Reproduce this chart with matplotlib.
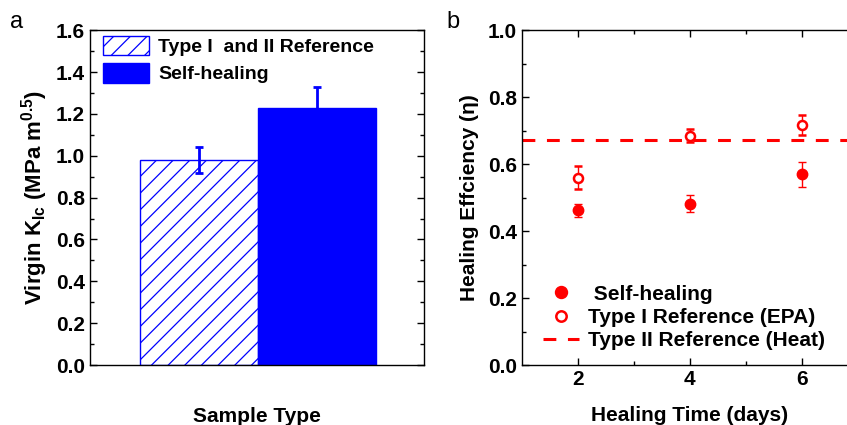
import matplotlib
matplotlib.use("Agg")
import matplotlib.pyplot as plt

plt.rcParams['font.family'] = ['Liberation Sans', 'DejaVu Sans']
plt.rcParams['font.weight'] = 'bold'
plt.rcParams['mathtext.default'] = 'regular'
plt.rcParams['hatch.linewidth'] = 0.9

# panel a data
sample_labels = ['Type I  and II Reference', 'Self-healing']
virgin_kic = [0.98, 1.23]
virgin_err = [0.06, 0.10]

# panel b data
healing_days = [2, 4, 6]
self_healing_eff = [0.462, 0.482, 0.570]
self_healing_err = [0.020, 0.025, 0.037]
type1_eff = [0.560, 0.685, 0.718]
type1_err = [0.035, 0.020, 0.030]
type2_eff = 0.672

blue = '#0000ff'
red = '#ff0000'

fig = plt.figure(figsize=(8.47, 4.25), dpi=100)
ax1 = fig.add_axes([0.106, 0.141, 0.394, 0.788])
ax2 = fig.add_axes([0.616, 0.141, 0.397, 0.788])


def style_axes(ax):
    for s in ax.spines.values():
        s.set_linewidth(1.0)
    ax.tick_params(which='both', direction='in', top=True, right=True,
                   labelsize=15, width=1.0)
    ax.tick_params(which='major', length=5)
    ax.tick_params(which='minor', length=3)
    for lab in ax.get_xticklabels() + ax.get_yticklabels():
        lab.set_fontweight('bold')


# ---- panel a ----
pos = [1, 2]
ax1.bar(pos[0], virgin_kic[0], width=1.0, color='white', edgecolor=blue,
        hatch='//', linewidth=1.0, label=sample_labels[0], zorder=2)
ax1.errorbar(pos[0], virgin_kic[0], yerr=virgin_err[0], fmt='none',
             ecolor=blue, elinewidth=2, capsize=3, capthick=2, zorder=3)
ax1.errorbar(pos[1], virgin_kic[1], yerr=virgin_err[1], fmt='none',
             ecolor=blue, elinewidth=2, capsize=3, capthick=2, zorder=1)
ax1.bar(pos[1], virgin_kic[1], width=1.0, color=blue, edgecolor=blue,
        linewidth=1.0, label=sample_labels[1], zorder=2)
ax1.set_xlim(0.076, 2.906)
ax1.set_ylim(0, 1.6)
ax1.set_yticks([0.0, 0.2, 0.4, 0.6, 0.8, 1.0, 1.2, 1.4, 1.6])
ax1.set_yticks([i / 10 for i in range(1, 16, 2)], minor=True)
ax1.set_xticks([])
style_axes(ax1)
ax1.set_ylabel('Virgin K$_{Ic}$ (MPa m$^{0.5}$)', fontsize=16,
               fontweight='bold', labelpad=4)
ax1.set_xlabel('Sample Type', fontsize=15, fontweight='bold', labelpad=30)
ax1.legend(loc='upper left', frameon=False, fontsize=14, handlelength=2.4,
           handleheight=1.15, handletextpad=0.45, labelspacing=0.35,
           borderpad=0, borderaxespad=0,
           bbox_to_anchor=(13 / 334, 1 - 6 / 335))
fig.text(0.012, 0.935, 'a', fontsize=17, fontweight='normal')

# ---- panel b ----
eb_self = ax2.errorbar(healing_days, self_healing_eff, yerr=self_healing_err,
                       fmt='o', color=red, ms=7.5, elinewidth=1, capsize=3,
                       capthick=1, zorder=3)
eb_t1 = ax2.errorbar(healing_days, type1_eff, yerr=type1_err, fmt='o',
                     color=red, mfc='white', mec=red, mew=1.8, ms=6.5,
                     elinewidth=1, capsize=3, capthick=1, zorder=3)
ref_line = ax2.axhline(type2_eff, color=red, lw=2.2, dashes=(4.2, 3.8),
                       zorder=2)
ax2.set_xlim(1, 7)
ax2.set_ylim(0, 1.0)
ax2.set_xticks([2, 4, 6])
ax2.set_xticks([3, 5], minor=True)
ax2.set_yticks([0.0, 0.2, 0.4, 0.6, 0.8, 1.0])
ax2.set_yticks([0.1, 0.3, 0.5, 0.7, 0.9], minor=True)
style_axes(ax2)
ax2.set_ylabel('Healing Effciency (η)', fontsize=15, fontweight='bold',
               labelpad=6)
ax2.set_xlabel('Healing Time (days)', fontsize=15, fontweight='bold',
               labelpad=12)
ax2.legend([eb_self[0], eb_t1[0], ref_line],
           [' Self-healing', 'Type I Reference (EPA)',
            'Type II Reference (Heat)'],
           loc='lower left', frameon=False, fontsize=15, handlelength=1.75,
           handletextpad=0.4, labelspacing=0.2, borderpad=0, markerscale=1.15,
           borderaxespad=0, bbox_to_anchor=(0.0625, 0.045))
fig.text(0.527, 0.935, 'b', fontsize=17, fontweight='normal')

fig.savefig('out.png', dpi=100)
